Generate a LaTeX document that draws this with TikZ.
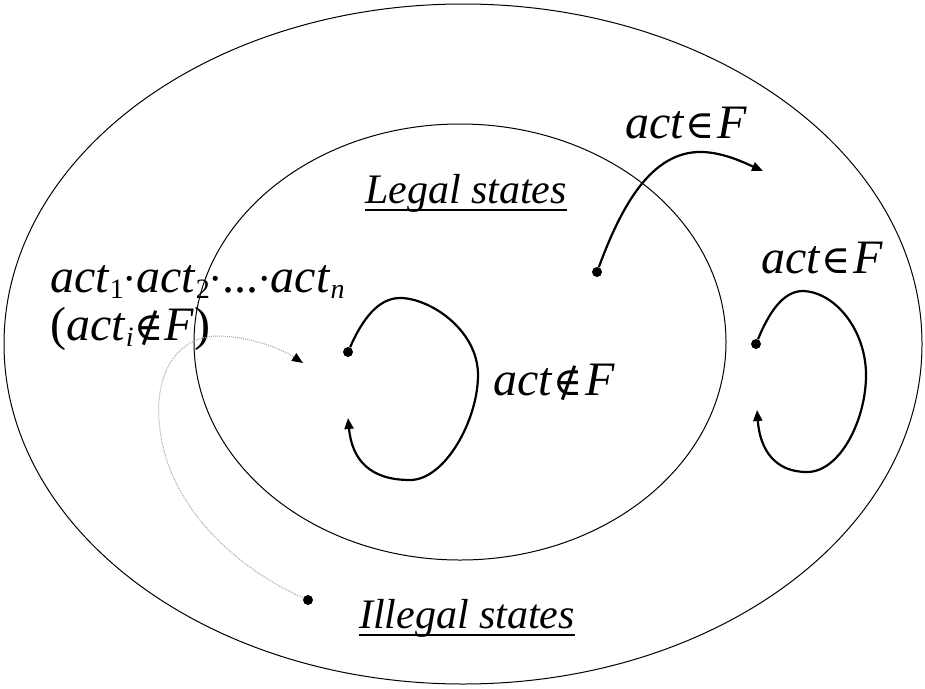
\documentclass[tikz,border=0pt]{standalone}
\usepackage{fontspec}
\setmainfont{Liberation Serif}
\newfontfamily\symfont{DejaVu Serif}[Scale=0.82]
\usetikzlibrary{arrows.meta, positioning}
\tikzset{
    setline/.style={line width=1pt, black},
    flow/.style={-{Triangle[length=11pt, width=9pt]}, line width=2.2pt},
    hidden/.style={-{Triangle[length=11pt, width=9pt, color=black]}, gray!70, line width=1pt, densely dotted},
    dot/.style={circle, fill=black, inner sep=0pt, minimum size=10pt},
    lbl/.style={font=\fontsize{48}{50}\selectfont, inner sep=0pt, anchor=base},
    setname/.style={font=\fontsize{42}{46}\selectfont\itshape, inner sep=0pt, anchor=base},
}
\newcommand{\idx}[1]{\raisebox{-0.14em}{\fontsize{28}{28}\selectfont #1}}
\newcommand{\ulined}[1]{\vtop{\hbox{#1}\kern-3pt\hrule height 2.5pt}}
\newcommand{\sy}[1]{{\symfont\upshape #1}}

\begin{document}
\begin{tikzpicture}[x=1pt, y=-1pt]
    \useasboundingbox (0,0) rectangle (925,688);
    % the two state sets
    \draw[setline] (463,344) ellipse [x radius=459pt, y radius=340pt];
    \draw[setline] (460,342) ellipse [x radius=266pt, y radius=218pt];
    \node[setname] (legal) at (466,203) {\ulined{Legal states}};
    \node[setname] (illegal) at (467,628) {\ulined{Illegal states}};
    % labels
    \node[lbl] (infup) at (686,138) {\textit{act}\kern1pt\sy{∈}\kern2pt\textit{F}};
    \node[lbl] (infright) at (822,273) {\textit{act}\kern1pt\sy{∈}\kern2pt\textit{F}};
    \node[lbl] (notinf) at (554,395) {\textit{act}\kern1pt\sy{∉}\kern2pt\textit{F}};
    \node[lbl, anchor=base west] (seq) at (50,292)
        {\textit{act}\idx{1}\sy{·}\textit{act}\idx{2}\sy{·}...\sy{·}\textit{act}\idx{\textit{n}}};
    \node[lbl, below=48pt of seq.base west, anchor=base west] (seqcond)
        {(\textit{act}\idx{\textit{i}}\kern1pt\sy{∉}\kern1pt\textit{F})};
    % start points
    \node[dot] (jumpsrc) at (597,272) {};
    \node[dot] (legalsrc) at (348,352) {};
    \node[dot] (illsrc) at (756,344) {};
    \node[dot] (backsrc) at (308,600) {};
    \coordinate (jumpend) at (763,171);
    \coordinate (legalend) at (348,418);
    \coordinate (illend) at (757,410);
    \coordinate (backend) at (303,363);
    % transitions
    \draw[flow] (jumpsrc) .. controls (620,210) and (650,150) .. (703,152)
        .. controls (725,153) and (745,163) .. (jumpend);
    \draw[flow] (legalsrc) .. controls (362,320) and (378,298) .. (400,298)
        .. controls (430,298) and (478,330) .. (478,375)
        .. controls (478,420) and (445,480) .. (410,480)
        .. controls (370,480) and (352,460) .. (legalend);
    \draw[flow] (illsrc) .. controls (768,315) and (782,291) .. (803,291)
        .. controls (835,292) and (866,330) .. (866,375)
        .. controls (866,420) and (840,472) .. (807,472)
        .. controls (775,472) and (760,450) .. (illend);
    \draw[hidden] (backsrc) .. controls (240,570) and (170,510) .. (160,430)
        .. controls (152,370) and (180,335) .. (220,336)
        .. controls (250,337) and (280,348) .. (backend);
\end{tikzpicture}
\end{document}
